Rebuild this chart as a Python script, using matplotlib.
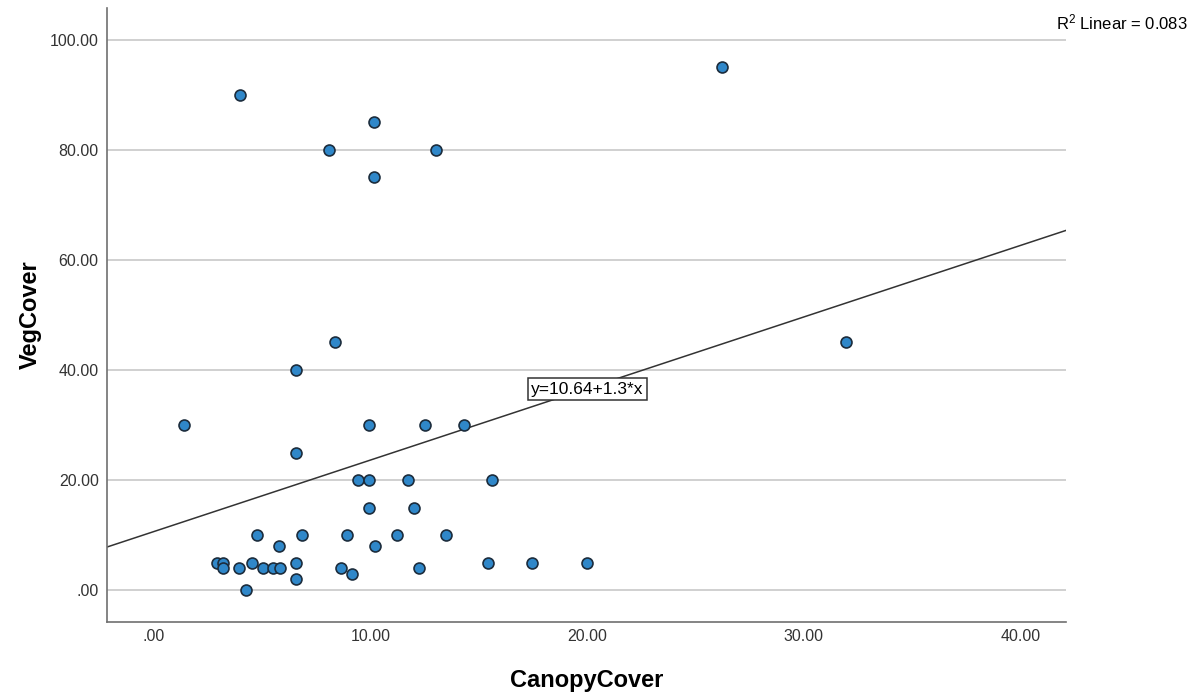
import matplotlib.pyplot as plt
import numpy as np
from matplotlib.ticker import FuncFormatter

plt.rcParams['font.family'] = ['Liberation Sans', 'DejaVu Sans']

canopy = [3.97, 26.2, 10.16, 8.08, 13.0, 10.16, 31.96, 8.36, 6.56, 1.39,
          9.93, 12.5, 14.3, 6.56, 9.42, 9.93, 11.73, 15.6, 9.93, 12.0,
          4.76, 6.84, 8.91, 11.2, 13.5, 10.2, 5.79, 2.9, 3.2, 3.2,
          3.94, 4.51, 5.02, 5.51, 5.82, 6.56, 6.56, 4.23, 8.62, 9.12,
          12.25, 15.4, 17.45, 20.0]
veg = [90, 95, 85, 80, 80, 75, 45, 45, 40, 30,
       30, 30, 30, 25, 20, 20, 20, 20, 15, 15,
       10, 10, 10, 10, 10, 8, 8, 5, 5, 4,
       4, 5, 4, 4, 4, 5, 2, 0, 4, 3,
       4, 5, 5, 5]

intercept = 10.64
slope = 1.3
r2 = 0.083

xticks = [0, 10, 20, 30, 40]
yticks = [0, 20, 40, 60, 80, 100]

def fmt(v, pos):
    s = '%.2f' % v
    return s[1:] if s.startswith('0') else s

fig = plt.figure(figsize=(11.94, 6.93), dpi=100)
ax = fig.add_axes([0.0896, 0.1025, 0.8032, 0.886])

xlim = (-2.17, 42.1)
ax.set_xlim(xlim)
ax.set_ylim(-5.8, 105.8)

ax.set_yticks(yticks)
ax.set_xticks(xticks)
ax.yaxis.set_major_formatter(FuncFormatter(fmt))
ax.xaxis.set_major_formatter(FuncFormatter(fmt))
ax.grid(axis='y', color='#c8c8c8', lw=1.2)
ax.set_axisbelow(True)

for s in ['top', 'right']:
    ax.spines[s].set_visible(False)
for s in ['left', 'bottom']:
    ax.spines[s].set_color('#707070')
    ax.spines[s].set_linewidth(1.2)

ax.tick_params(axis='both', length=0, labelsize=11.5, colors='#333333')
ax.tick_params(axis='x', pad=5)
ax.tick_params(axis='y', pad=6)

xs = np.array(xlim)
ax.plot(xs, intercept + slope * xs, color='#333333', lw=1.1, zorder=2)

ax.scatter(canopy, veg, s=62, color='#2f87c9', edgecolor='#1c2c3c',
           linewidth=1.2, zorder=3)

ax.text(20.0, 36.5, 'y=10.64+1.3*x', ha='center', va='center', fontsize=12.5,
        bbox=dict(boxstyle='square,pad=0.2', fc='white', ec='#333333', lw=1.1),
        zorder=4)

ax.set_xlabel('CanopyCover', fontsize=17, fontweight='bold', labelpad=18)
ax.set_ylabel('VegCover', fontsize=17, fontweight='bold', labelpad=6)

fig.text(0.995, 0.968, '$\\mathregular{R^2}$ Linear = 0.083', ha='right',
         va='center', fontsize=12)

fig.savefig('out.png', dpi=100)
